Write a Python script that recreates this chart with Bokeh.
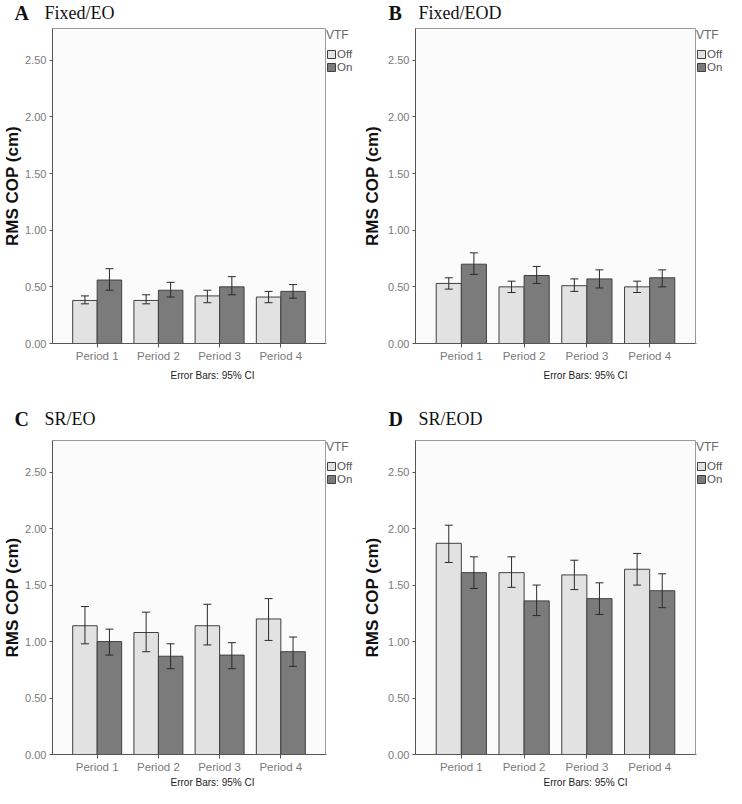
from bokeh.plotting import figure
from bokeh.models import (ColumnDataSource, FactorRange, Range1d, FixedTicker,
                          NumeralTickFormatter, Whisker, TeeHead, Label, Legend, LegendItem)
from bokeh.transform import dodge
from bokeh.layouts import column, row
from bokeh.embed import file_html
from bokeh.resources import INLINE

periods = ["Period 1", "Period 2", "Period 3", "Period 4"]
y_ticks = [0.0, 0.5, 1.0, 1.5, 2.0, 2.5]
legend_title = "VTF"
series_names = ["Off", "On"]
footnote = "Error Bars: 95% CI"
y_label = "RMS COP (cm)"

# Panel A: Fixed/EO
a_off = [0.38, 0.38, 0.42, 0.41]
a_off_lo = [0.35, 0.35, 0.36, 0.36]
a_off_hi = [0.42, 0.43, 0.47, 0.46]
a_on = [0.56, 0.47, 0.50, 0.46]
a_on_lo = [0.47, 0.41, 0.43, 0.40]
a_on_hi = [0.66, 0.54, 0.59, 0.52]

# Panel B: Fixed/EOD
b_off = [0.53, 0.50, 0.51, 0.50]
b_off_lo = [0.48, 0.45, 0.46, 0.45]
b_off_hi = [0.58, 0.55, 0.57, 0.55]
b_on = [0.70, 0.60, 0.57, 0.58]
b_on_lo = [0.61, 0.53, 0.49, 0.50]
b_on_hi = [0.80, 0.68, 0.65, 0.65]

# Panel C: SR/EO
c_off = [1.14, 1.08, 1.14, 1.20]
c_off_lo = [0.98, 0.91, 0.97, 1.01]
c_off_hi = [1.31, 1.26, 1.33, 1.38]
c_on = [1.00, 0.87, 0.88, 0.91]
c_on_lo = [0.88, 0.76, 0.76, 0.78]
c_on_hi = [1.11, 0.98, 0.99, 1.04]

# Panel D: SR/EOD
d_off = [1.87, 1.61, 1.59, 1.64]
d_off_lo = [1.70, 1.48, 1.46, 1.50]
d_off_hi = [2.03, 1.75, 1.72, 1.78]
d_on = [1.61, 1.36, 1.38, 1.45]
d_on_lo = [1.47, 1.23, 1.24, 1.30]
d_on_hi = [1.75, 1.50, 1.52, 1.60]

OFF_COLOR = "#e2e2e2"
ON_COLOR = "#7b7b7b"
BAR_LINE = "#404040"
SANS = "Liberation Sans"
SERIF = "Liberation Serif"


def strip(w, h):
    f = figure(width=w, height=h, output_backend="svg", toolbar_location=None,
               x_range=Range1d(0, w), y_range=Range1d(0, h),
               x_axis_type=None, y_axis_type=None, min_border=0)
    f.outline_line_color = None
    f.background_fill_color = "white"
    f.border_fill_color = "white"
    return f


def panel(letter, name, off, off_lo, off_hi, on, on_lo, on_hi,
          w, left, fw, head_h, fh, bottom, foot_h,
          letter_x, name_x, title_mid, ylab_standoff, foot_x, foot_y):
    # header: panel letter and condition name
    head = strip(w, head_h)
    head.add_layout(Label(x=letter_x, y=head_h - title_mid, text=letter,
                          text_align="left", text_baseline="middle",
                          text_font=SERIF, text_font_style="bold",
                          text_font_size="20px", text_color="#111111"))
    head.add_layout(Label(x=name_x, y=head_h - title_mid, text=name,
                          text_align="left", text_baseline="middle",
                          text_font=SERIF, text_font_size="18px", text_color="#111111"))

    main_w = left + fw + 1
    p = figure(width=main_w, height=fh + bottom, output_backend="svg", toolbar_location=None,
               x_range=FactorRange(factors=periods, range_padding=0.23,
                                   range_padding_units="absolute"),
               y_range=Range1d(0, 2.78),
               min_border_left=left, min_border_top=1,
               min_border_right=1, min_border_bottom=bottom)
    p.background_fill_color = "#fbfbfb"
    p.border_fill_color = "white"
    p.outline_line_color = "#9a9a9a"
    p.grid.visible = False

    src = ColumnDataSource(dict(period=periods, off=off, off_lo=off_lo, off_hi=off_hi,
                                on=on, on_lo=on_lo, on_hi=on_hi))
    p.vbar(x=dodge("period", -0.2, range=p.x_range), top="off", width=0.4,
           source=src, fill_color=OFF_COLOR, line_color=BAR_LINE, line_width=1)
    p.vbar(x=dodge("period", 0.2, range=p.x_range), top="on", width=0.4,
           source=src, fill_color=ON_COLOR, line_color=BAR_LINE, line_width=1)
    for key, off_x in (("off", -0.2), ("on", 0.2)):
        wk = Whisker(source=src, base=dodge("period", off_x, range=p.x_range),
                     lower=key + "_lo", upper=key + "_hi", level="overlay",
                     line_color="#2a2a2a", line_width=1,
                     upper_head=TeeHead(size=8, line_color="#2a2a2a", line_width=1),
                     lower_head=TeeHead(size=8, line_color="#2a2a2a", line_width=1))
        p.add_layout(wk)

    p.yaxis.ticker = FixedTicker(ticks=y_ticks)
    p.yaxis.formatter = NumeralTickFormatter(format="0.00")
    p.yaxis.major_tick_out = 3
    p.yaxis.major_tick_in = 0
    p.yaxis.minor_tick_line_color = None
    p.yaxis.major_label_standoff = 3
    p.yaxis.axis_label = y_label
    p.yaxis.axis_label_standoff = ylab_standoff
    p.yaxis.axis_label_text_font = SANS
    p.yaxis.axis_label_text_font_style = "bold"
    p.yaxis.axis_label_text_font_size = "17px"
    p.yaxis.axis_label_text_color = "#111111"
    p.xaxis.major_tick_out = 4
    p.xaxis.major_tick_in = 0
    p.xaxis.major_label_standoff = 2
    for ax in (p.xaxis, p.yaxis):
        ax.axis_line_color = "#555555"
        ax.major_tick_line_color = "#555555"
        ax.major_label_text_font = SANS
        ax.major_label_text_color = "#7a7a7a"
    p.xaxis.major_label_text_font_size = "11.5px"
    p.yaxis.major_label_text_font_size = "11px"

    # legend strip to the right of the plot frame (swatches outside its visible range)
    lw = w - main_w
    lf = strip(lw, fh + bottom)
    r1 = lf.vbar(x=[-10], top=[0], width=0, fill_color=OFF_COLOR, line_color=BAR_LINE)
    r2 = lf.vbar(x=[-10], top=[0], width=0, fill_color=ON_COLOR, line_color=BAR_LINE)
    leg = Legend(items=[LegendItem(label=series_names[0], renderers=[r1]),
                        LegendItem(label=series_names[1], renderers=[r2])],
                 location="top_left", title=legend_title,
                 title_text_font=SANS, title_text_font_size="12px",
                 title_text_color="#6a6a6a", title_text_font_style="normal",
                 title_standoff=6,
                 label_text_font=SANS, label_text_font_size="11.5px",
                 label_text_color="#555555", label_standoff=1,
                 glyph_width=10, glyph_height=10, label_height=10, label_width=10,
                 spacing=1, padding=4, margin=0,
                 border_line_color=None, background_fill_alpha=0)
    lf.add_layout(leg)

    foot = strip(w, foot_h)
    foot.add_layout(Label(x=foot_x, y=foot_h - foot_y, text=footnote,
                          text_align="center", text_baseline="middle",
                          text_font=SANS, text_font_size="10px", text_color="#222222"))
    return column(head, row(p, lf, spacing=0), foot, spacing=0)


pa = panel("A", "Fixed/EO", a_off, a_off_lo, a_off_hi, a_on, a_on_lo, a_on_hi,
           w=353, left=44, fw=281, head_h=27, fh=316, bottom=22, foot_h=28,
           letter_x=14, name_x=44, title_mid=12.5, ylab_standoff=0,
           foot_x=212, foot_y=9.5)
pb = panel("B", "Fixed/EOD", b_off, b_off_lo, b_off_hi, b_on, b_on_lo, b_on_hi,
           w=373, left=62, fw=280, head_h=27, fh=316, bottom=22, foot_h=28,
           letter_x=35, name_x=65, title_mid=12.5, ylab_standoff=3,
           foot_x=232, foot_y=9.5)
pc = panel("C", "SR/EO", c_off, c_off_lo, c_off_hi, c_on, c_on_lo, c_on_hi,
           w=353, left=44, fw=281, head_h=46, fh=316, bottom=20, foot_h=11,
           letter_x=14, name_x=44, title_mid=25.5, ylab_standoff=0,
           foot_x=212, foot_y=5.5)
pd_ = panel("D", "SR/EOD", d_off, d_off_lo, d_off_hi, d_on, d_on_lo, d_on_hi,
            w=373, left=62, fw=280, head_h=46, fh=316, bottom=20, foot_h=11,
            letter_x=35, name_x=65, title_mid=25.5, ylab_standoff=3,
            foot_x=232, foot_y=5.5)

layout = column(row(pa, pb, spacing=0), row(pc, pd_, spacing=0), spacing=0)
open("out.html", "w").write(file_html(layout, INLINE))
